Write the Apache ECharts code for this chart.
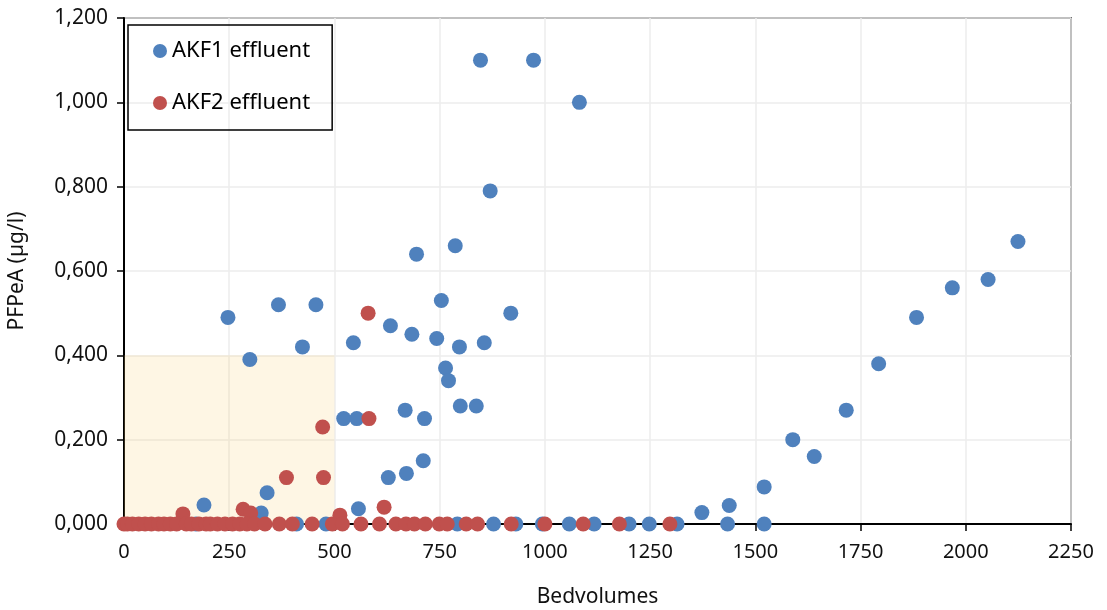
<!DOCTYPE html>
<html>
<head>
<meta charset="utf-8">
<script src="https://cdn.jsdelivr.net/npm/echarts@6/dist/echarts.min.js"></script>
<style>html,body{margin:0;padding:0;background:#fff;}#c{width:1107px;height:610px;}</style>
</head>
<body>
<div id="c"></div>
<script>
// AKF1 effluent: non-zero points [bedvolumes, µg/l]
var akf1Points = [[190,0.045],[247,0.49],[299,0.39],[326,0.026],[340,0.074],[367,0.52],[424,0.42],[456,0.52],[522,0.25],[545,0.43],[553,0.25],[557,0.036],[628,0.11],[633,0.47],[668,0.27],[671,0.12],[684,0.45],[695,0.64],[714,0.25],[711,0.15],[743,0.44],[754,0.53],[764,0.37],[771,0.34],[787,0.66],[797,0.42],[799,0.28],[837,0.28],[847,1.10],[856,0.43],[870,0.79],[919,0.50],[973,1.10],[1082,1.00],[1373,0.027],[1438,0.044],[1521,0.088],[1589,0.20],[1640,0.16],[1716,0.27],[1793,0.38],[1883,0.49],[1968,0.56],[2053,0.58],[2124,0.67]];
// AKF1 effluent: bedvolumes with 0 µg/l
var akf1Zeros = [171,410,480,792,878,931,994,1058,1117,1200,1248,1314,1434,1521];
// AKF2 effluent: non-zero points
var akf2Points = [[140,0.024],[283,0.035],[301,0.026],[386,0.11],[472,0.23],[474,0.11],[513,0.021],[580,0.50],[582,0.25],[618,0.04]];
// AKF2 effluent: bedvolumes with 0 µg/l
var akf2Zeros = [0,8,20,35,50,65,82,95,110,125,148,160,178,195,205,222,240,258,275,292,310,335,369,400,447,495,519,563,607,646,670,690,716,749,768,813,840,920,1000,1091,1177,1297];
// shaded region corners
var shadeFrom = [0, 0];
var shadeTo = [500, 0.4];

var xTicks = {min:0, max:2250, interval:250};
var yTicks = {min:0, max:1.2, interval:0.2};

var akf1 = akf1Points.concat(akf1Zeros.map(function(x){return [x,0];}));
var akf2 = akf2Points.concat(akf2Zeros.map(function(x){return [x,0];}));

var font = 'Noto Sans';
var chart = echarts.init(document.getElementById('c'));
chart.setOption({
  animation:false,
  backgroundColor:'#fff',
  grid:{left:124,right:36,top:18,bottom:86,containLabel:false,outerBoundsMode:'none',
    show:true,borderColor:'#000',borderWidth:1.5,backgroundColor:'transparent'},
  legend:{
    orient:'vertical', left:128, top:25,
    data:['AKF1 effluent','AKF2 effluent'],
    icon:'circle', itemWidth:14, itemHeight:14, itemGap:30,
    padding:[15,22,16,25],
    borderColor:'#000', borderWidth:1.5,
    textStyle:{fontFamily:font,fontSize:22,color:'#000'}
  },
  xAxis:{
    type:'value', min:xTicks.min, max:xTicks.max, interval:xTicks.interval,
    name:'Bedvolumes', nameLocation:'middle', nameGap:63,
    nameTextStyle:{fontFamily:font,fontSize:21,color:'#111'},
    axisLine:{lineStyle:{color:'#000',width:2}},
    axisTick:{show:true,length:7,lineStyle:{color:'#000',width:1.5}},
    axisLabel:{fontFamily:font,fontSize:20,color:'#111',margin:18,
      formatter:function(v){return String(v);}},
    splitLine:{show:true,lineStyle:{color:'#EDEDED',width:1.5}}
  },
  yAxis:{
    type:'value', min:yTicks.min, max:yTicks.max, interval:yTicks.interval,
    name:'PFPeA (µg/l)', nameLocation:'middle', nameGap:96,
    nameTextStyle:{fontFamily:font,fontSize:21,color:'#111'},
    axisLine:{show:true,lineStyle:{color:'#000',width:2}},
    axisTick:{show:true,length:7,lineStyle:{color:'#000',width:1.5}},
    axisLabel:{fontFamily:font,fontSize:21,color:'#111',margin:16,
      formatter:function(v){return v.toFixed(3).replace('.',',');}},
    splitLine:{show:true,lineStyle:{color:'#EDEDED',width:1.5}}
  },
  series:[
    {name:'AKF1 effluent',type:'scatter',z:2,symbolSize:15,data:akf1,itemStyle:{color:'#4F81BD',opacity:1}},
    {name:'AKF2 effluent',type:'scatter',z:3,symbolSize:15,data:akf2,itemStyle:{color:'#C0504D',opacity:1}},
    {name:'shade',type:'line',z:5,data:[],silent:true,
      markArea:{silent:true,itemStyle:{color:'rgba(250,210,120,0.2)'},
        data:[[{coord:shadeFrom},{coord:shadeTo}]]}}
  ]
});
</script>
</body>
</html>
